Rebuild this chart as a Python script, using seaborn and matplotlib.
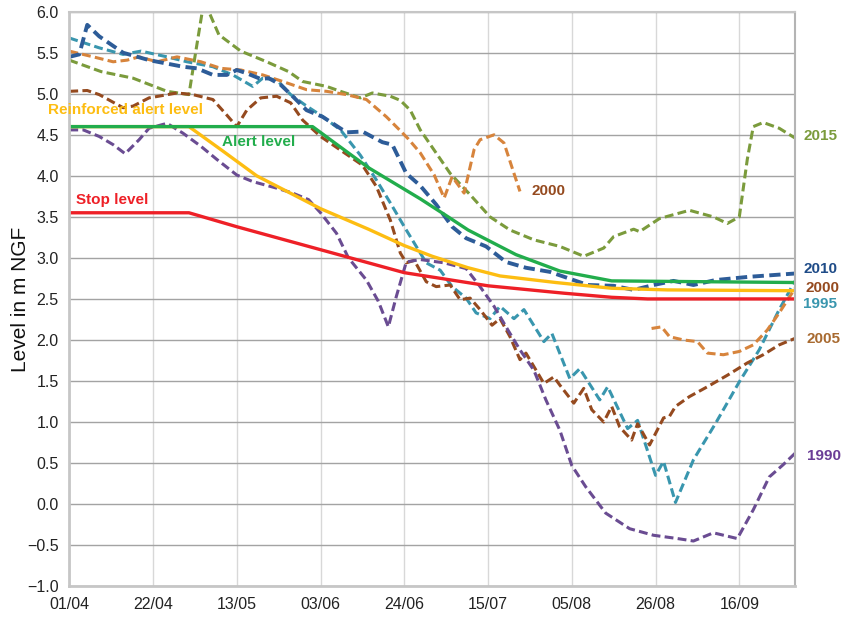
import matplotlib
matplotlib.use("Agg")
import matplotlib.pyplot as plt
import seaborn as sns
import pandas as pd

# Days counted from 01/04
tick_days = [0, 21, 42, 63, 84, 105, 126, 147, 168]
tick_labels = ["01/04", "22/04", "13/05", "03/06", "24/06", "15/07", "05/08", "26/08", "16/09"]

# Threshold levels
stop_days = [0, 30, 42, 63, 84, 105, 124, 136, 145, 182]
stop_vals = [3.55, 3.55, 3.38, 3.10, 2.82, 2.66, 2.57, 2.52, 2.50, 2.50]

reinf_days = [0, 30, 38, 47, 55, 63, 75, 84, 91, 100, 108, 122, 136, 150, 182]
reinf_vals = [4.6, 4.6, 4.32, 4.0, 3.8, 3.6, 3.35, 3.15, 3.02, 2.88, 2.78, 2.70, 2.63, 2.61, 2.6]

alert_days = [0, 61, 75, 88, 95, 100, 112, 123, 136, 182]
alert_vals = [4.6, 4.6, 4.1, 3.72, 3.5, 3.34, 3.04, 2.84, 2.72, 2.7]

# Yearly level records
y2015_days = [0, 8, 16, 24.5, 30, 31.5, 33.5, 35, 37.5, 43, 49.5, 55, 58.5, 64.5, 68, 73, 76, 80.5,
              83, 85.5, 88, 95.5, 100.5, 105.5, 110.5, 116.5, 123, 129, 134, 136.5, 141.5, 143, 148,
              155.5, 161.5, 165, 168, 170, 171.5, 174, 178, 182]
y2015_vals = [5.41, 5.27, 5.19, 5.03, 4.99, 5.45, 6.05, 6.0, 5.72, 5.52, 5.39, 5.27, 5.15, 5.09, 5.03,
              4.95, 5.01, 4.97, 4.92, 4.80, 4.56, 4.03, 3.77, 3.50, 3.34, 3.22, 3.14, 3.02, 3.12, 3.26,
              3.35, 3.32, 3.48, 3.58, 3.50, 3.42, 3.50, 4.20, 4.60, 4.65, 4.58, 4.46]

y2010_days = [0, 2.5, 4.5, 7.5, 13.5, 20, 28.5, 32, 36, 39.5, 42, 44.5, 48, 50, 53, 56, 59.5, 63.5,
              69.5, 73.5, 78.5, 81, 84.5, 88, 92, 96, 99.5, 104.5, 109.5, 114.5, 120.5, 130, 136.5,
              141.5, 146.5, 151.5, 156.5, 162, 170.5, 182]
y2010_vals = [5.45, 5.48, 5.84, 5.70, 5.50, 5.41, 5.33, 5.31, 5.23, 5.23, 5.29, 5.25, 5.18, 5.19, 5.11,
              4.97, 4.80, 4.72, 4.53, 4.54, 4.41, 4.38, 4.03, 3.88, 3.65, 3.38, 3.24, 3.14, 2.95, 2.88,
              2.83, 2.67, 2.66, 2.61, 2.67, 2.72, 2.67, 2.73, 2.77, 2.81]

y1995_days = [0, 7.5, 13.5, 18, 24.5, 29.5, 36, 41, 46, 48.5, 52, 55.5, 59.5, 63, 68, 73, 77, 80.5,
              84, 87, 89.5, 93, 96, 99.5, 102, 105.5, 108, 111.5, 114, 119, 121, 125.5, 128, 133, 135,
              140, 142.5, 147, 149, 152, 156.5, 162, 168, 173, 178, 182]
y1995_vals = [5.68, 5.56, 5.48, 5.52, 5.45, 5.39, 5.33, 5.23, 5.09, 5.19, 5.17, 4.99, 4.85, 4.74, 4.56,
              4.25, 3.95, 3.67, 3.38, 3.14, 2.94, 2.85, 2.65, 2.51, 2.33, 2.26, 2.41, 2.26, 2.37, 1.98,
              2.08, 1.53, 1.65, 1.27, 1.43, 0.92, 1.02, 0.35, 0.52, 0.02, 0.54, 0.98, 1.49, 1.88, 2.37,
              2.72]

y2005_days = [0, 4.5, 7.5, 13.5, 16, 20, 27, 31, 36, 39.5, 42, 44.5, 48, 52, 55.5, 58.5, 63, 69, 73.5,
              77, 80.5, 83, 84.5, 86.5, 89.5, 92, 95.5, 98, 100.5, 103, 106, 108, 110.5, 113, 114.5,
              119, 121.5, 123, 126.5, 129, 131, 134, 136, 138, 141, 142.5, 145.5, 149, 150.5, 152,
              155.5, 160, 165, 170, 174, 178, 182]
y2005_vals = [5.03, 5.04, 4.99, 4.83, 4.85, 4.95, 5.01, 4.99, 4.93, 4.74, 4.60, 4.80, 4.95, 4.97, 4.89,
              4.68, 4.48, 4.28, 4.13, 3.87, 3.46, 3.06, 2.94, 2.97, 2.71, 2.65, 2.67, 2.49, 2.51, 2.37,
              2.18, 2.26, 2.04, 1.76, 1.84, 1.47, 1.55, 1.45, 1.23, 1.41, 1.15, 1.00, 1.19, 0.94, 0.78,
              0.98, 0.72, 1.05, 1.07, 1.19, 1.31, 1.43, 1.57, 1.72, 1.82, 1.94, 2.02]

y2000a_days = [0, 6, 11, 14.5, 17.5, 22, 27, 33, 38, 43, 48.5, 53.5, 59.5, 64.5, 69.5, 74.5, 79.5, 83,
               85, 88, 91.5, 94, 96, 99, 101.5, 103, 106.5, 109, 111.5, 113]
y2000a_vals = [5.52, 5.45, 5.39, 5.41, 5.45, 5.39, 5.45, 5.39, 5.31, 5.29, 5.23, 5.15, 5.05, 5.03, 4.99,
               4.93, 4.72, 4.55, 4.45, 4.28, 4.01, 3.73, 3.99, 3.79, 4.32, 4.44, 4.50, 4.40, 4.03, 3.81]
y2000b_days = [146, 148.5, 150.5, 154, 157.5, 160, 164, 168, 171.5, 175, 178, 182]
y2000b_vals = [2.14, 2.16, 2.04, 2.0, 1.98, 1.84, 1.82, 1.86, 1.94, 2.12, 2.33, 2.63]

y1990_days = [0, 3.5, 7.5, 11, 14, 17.5, 20, 24.5, 28.5, 33, 37, 42, 46, 52, 56, 60, 63, 67, 70, 74.5,
              77.5, 80, 82, 84.5, 88, 94, 99.5, 103, 106.5, 110, 113, 116.5, 119.5, 123, 126, 129.5,
              134.5, 140.5, 146.5, 152.5, 156.5, 161.5, 167.5, 171.5, 175.5, 179, 182]
y1990_vals = [4.56, 4.56, 4.48, 4.38, 4.27, 4.44, 4.58, 4.64, 4.52, 4.36, 4.20, 4.01, 3.93, 3.85, 3.79,
              3.71, 3.55, 3.30, 3.0, 2.73, 2.47, 2.16, 2.53, 2.95, 2.98, 2.94, 2.87, 2.65, 2.41, 2.12,
              1.88, 1.63, 1.27, 0.90, 0.47, 0.21, -0.11, -0.30, -0.38, -0.42, -0.45, -0.35, -0.42,
              -0.07, 0.33, 0.48, 0.62]

sns.set_style("white")
plt.rcParams["font.family"] = ["Liberation Sans", "DejaVu Sans"]

fig = plt.figure(figsize=(8.45, 6.17), dpi=100)
ax = fig.add_axes([0.082, 0.050, 0.859, 0.931])

dashed = [
    (y2015_days, y2015_vals, "#7b9b3c", 2.2),
    (y1995_days, y1995_vals, "#3996ae", 2.2),
    (y2000a_days, y2000a_vals, "#d7843c", 2.2),
    (y2000b_days, y2000b_vals, "#d7843c", 2.2),
    (y2005_days, y2005_vals, "#954a1f", 2.2),
    (y1990_days, y1990_vals, "#6a4c92", 2.2),
    (y2010_days, y2010_vals, "#2d5c98", 2.8),
]
for days, vals, col, lw in dashed:
    sns.lineplot(x=days, y=vals, ax=ax, color=col, linewidth=lw)
    ax.lines[-1].set_dashes((2.9, 1.4))

solid = [
    (stop_days, stop_vals, "#ee2027"),
    (reinf_days, reinf_vals, "#fdbd12"),
    (alert_days, alert_vals, "#22ad4c"),
]
for days, vals, col in solid:
    sns.lineplot(x=days, y=vals, ax=ax, color=col, linewidth=2.4)

ax.set_xlim(0, 182)
ax.set_ylim(-1.0, 6.0)
ax.set_xticks(tick_days)
ax.set_xticklabels(tick_labels)
ax.set_yticks([-1.0 + 0.5 * i for i in range(15)])
ax.yaxis.set_major_formatter(
    matplotlib.ticker.FuncFormatter(lambda v, p: f"{v:.1f}".replace("-", "\u2212")))
ax.tick_params(axis="both", labelsize=11.5, colors="#222222", length=4, width=1)
ax.tick_params(axis="both", color="#c4c4c4")
ax.set_xlabel("")
ax.set_ylabel("Level in m NGF", fontsize=15, color="#111111", labelpad=-2)

ax.yaxis.grid(True, color="#a3a3a3", linewidth=1)
ax.xaxis.grid(True, color="#d8d8d8", linewidth=1)
ax.set_axisbelow(True)
for side in ["left", "bottom"]:
    ax.spines[side].set_color("#c6c6c6")
    ax.spines[side].set_linewidth(2)
ax.spines["right"].set_color("#b4b4b4")
ax.spines["right"].set_linewidth(1.5)
ax.spines["top"].set_color("#c6c6c6")
ax.spines["top"].set_linewidth(1.5)

lab = dict(fontsize=11, fontweight="bold", va="center", clip_on=False)
ax.text(-5.3, 4.80, "Reinforced alert level", color="#fdbd12", **lab)
ax.text(38.3, 4.41, "Alert level", color="#22ad4c", **lab)
ax.text(1.7, 3.70, "Stop level", color="#ee2027", **lab)
ax.text(116, 3.82, "2000", color="#954a1f", **lab)
ax.text(184.0, 4.48, "2015", color="#7b9b3c", **lab)
ax.text(184.0, 2.87, "2010", color="#1f4c88", **lab)
ax.text(184.6, 2.63, "2000", color="#954a1f", **lab)
ax.text(184.0, 2.44, "1995", color="#3996ae", **lab)
ax.text(184.9, 2.01, "2005", color="#a86a30", **lab)
ax.text(184.9, 0.59, "1990", color="#6a3d96", **lab)

fig.savefig("out.png", dpi=100)
